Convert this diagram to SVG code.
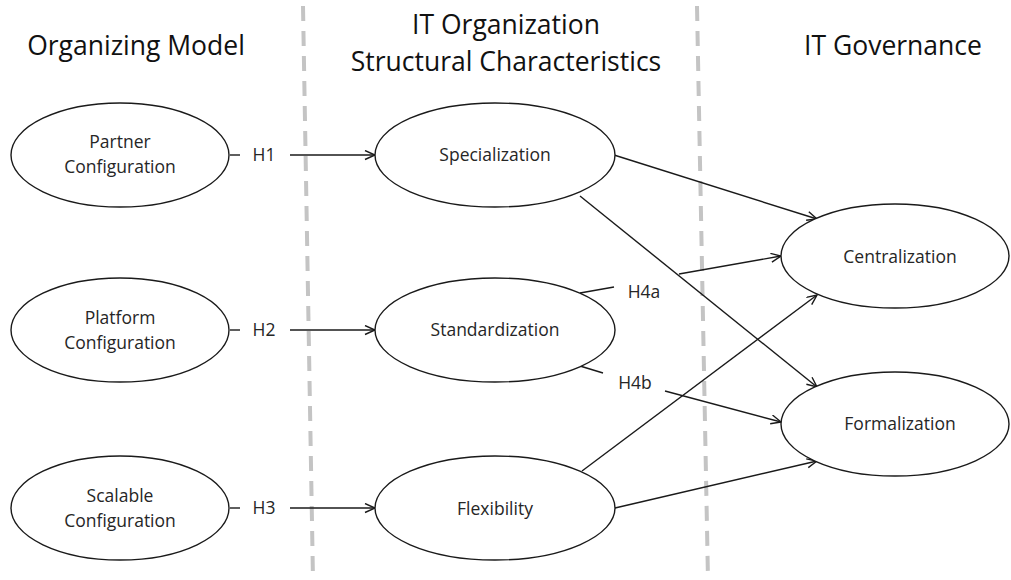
<svg xmlns="http://www.w3.org/2000/svg" width="1011" height="580" viewBox="0 0 1011 580">
  <defs>
    <marker id="arrow" markerUnits="userSpaceOnUse" markerWidth="14" markerHeight="12" refX="11" refY="5" orient="auto">
      <path d="M1,0.5 L11,5 L1,9.5" fill="none" stroke="#1a1a1a" stroke-width="1.4"/>
    </marker>
    <style>
      .node ellipse { fill: #ffffff; stroke: #1a1a1a; stroke-width: 1.4; }
      .lbl { font-family: "Open Sans", "Liberation Sans", sans-serif; font-size: 17.5px; fill: #262626; text-anchor: middle; }
      .hdr { font-family: "Open Sans", "Liberation Sans", sans-serif; font-size: 26.5px; fill: #111111; text-anchor: middle; }
      .divider { stroke: #c4c4c4; stroke-width: 4; stroke-dasharray: 15 10; fill: none; }
      .edge { stroke: #1a1a1a; stroke-width: 1.4; fill: none; }
      .arr { marker-end: url(#arrow); }
    </style>
  </defs>
  <rect width="1011" height="580" fill="#ffffff"/>

  <!-- column dividers -->
  <g id="dividers">
    <line class="divider" x1="303" y1="6" x2="313" y2="580"/>
    <line class="divider" x1="697" y1="6" x2="708" y2="580"/>
  </g>

  <!-- column headings -->
  <g id="headings">
    <text class="hdr" x="136" y="55">Organizing Model</text>
    <text class="hdr" x="506" y="34">IT Organization</text>
    <text class="hdr" x="506" y="71">Structural Characteristics</text>
    <text class="hdr" x="893" y="55">IT Governance</text>
  </g>

  <!-- connectors -->
  <g id="connectors">
    <!-- H1 -->
    <line class="edge" x1="230" y1="155" x2="240" y2="155"/>
    <line class="edge arr" x1="290" y1="155" x2="375" y2="155"/>
    <text class="lbl" x="264" y="161">H1</text>
    <!-- H2 -->
    <line class="edge" x1="230" y1="330" x2="240" y2="330"/>
    <line class="edge arr" x1="290" y1="330" x2="375" y2="330"/>
    <text class="lbl" x="264" y="336">H2</text>
    <!-- H3 -->
    <line class="edge" x1="230" y1="508" x2="240" y2="508"/>
    <line class="edge arr" x1="290" y1="508" x2="375" y2="508"/>
    <text class="lbl" x="264" y="514">H3</text>

    <!-- Specialization -> governance -->
    <line class="edge arr" x1="614" y1="155" x2="817" y2="219"/>
    <line class="edge arr" x1="580" y1="196" x2="817" y2="387"/>

    <!-- H4a / H4b -->
    <line class="edge" x1="580" y1="293" x2="614" y2="287"/>
    <text class="lbl" x="644" y="298">H4a</text>
    <line class="edge arr" x1="679" y1="274" x2="781" y2="256"/>
    <line class="edge" x1="580" y1="366" x2="603" y2="373"/>
    <text class="lbl" x="635" y="389">H4b</text>
    <line class="edge arr" x1="665" y1="391" x2="781" y2="422"/>

    <!-- Flexibility -> governance -->
    <line class="edge arr" x1="582" y1="471" x2="817" y2="295"/>
    <line class="edge arr" x1="615" y1="508" x2="817" y2="461"/>
  </g>

  <!-- organizing model nodes -->
  <g id="partner" class="node">
    <ellipse cx="120" cy="155" rx="109" ry="52"/>
    <text class="lbl" x="120" y="148">Partner</text>
    <text class="lbl" x="120" y="173">Configuration</text>
  </g>
  <g id="platform" class="node">
    <ellipse cx="120" cy="330" rx="109" ry="52"/>
    <text class="lbl" x="120" y="324">Platform</text>
    <text class="lbl" x="120" y="349">Configuration</text>
  </g>
  <g id="scalable" class="node">
    <ellipse cx="120" cy="508" rx="109" ry="52"/>
    <text class="lbl" x="120" y="502">Scalable</text>
    <text class="lbl" x="120" y="527">Configuration</text>
  </g>

  <!-- structural characteristic nodes -->
  <g id="specialization" class="node">
    <ellipse cx="495" cy="155" rx="120" ry="52"/>
    <text class="lbl" x="495" y="161">Specialization</text>
  </g>
  <g id="standardization" class="node">
    <ellipse cx="495" cy="330" rx="120" ry="52"/>
    <text class="lbl" x="495" y="336">Standardization</text>
  </g>
  <g id="flexibility" class="node">
    <ellipse cx="495" cy="508" rx="120" ry="52"/>
    <text class="lbl" x="495" y="515">Flexibility</text>
  </g>

  <!-- governance nodes -->
  <g id="centralization" class="node">
    <ellipse cx="895" cy="256" rx="114" ry="52"/>
    <text class="lbl" x="900" y="263">Centralization</text>
  </g>
  <g id="formalization" class="node">
    <ellipse cx="895" cy="424" rx="114" ry="52"/>
    <text class="lbl" x="900" y="430">Formalization</text>
  </g>
</svg>
